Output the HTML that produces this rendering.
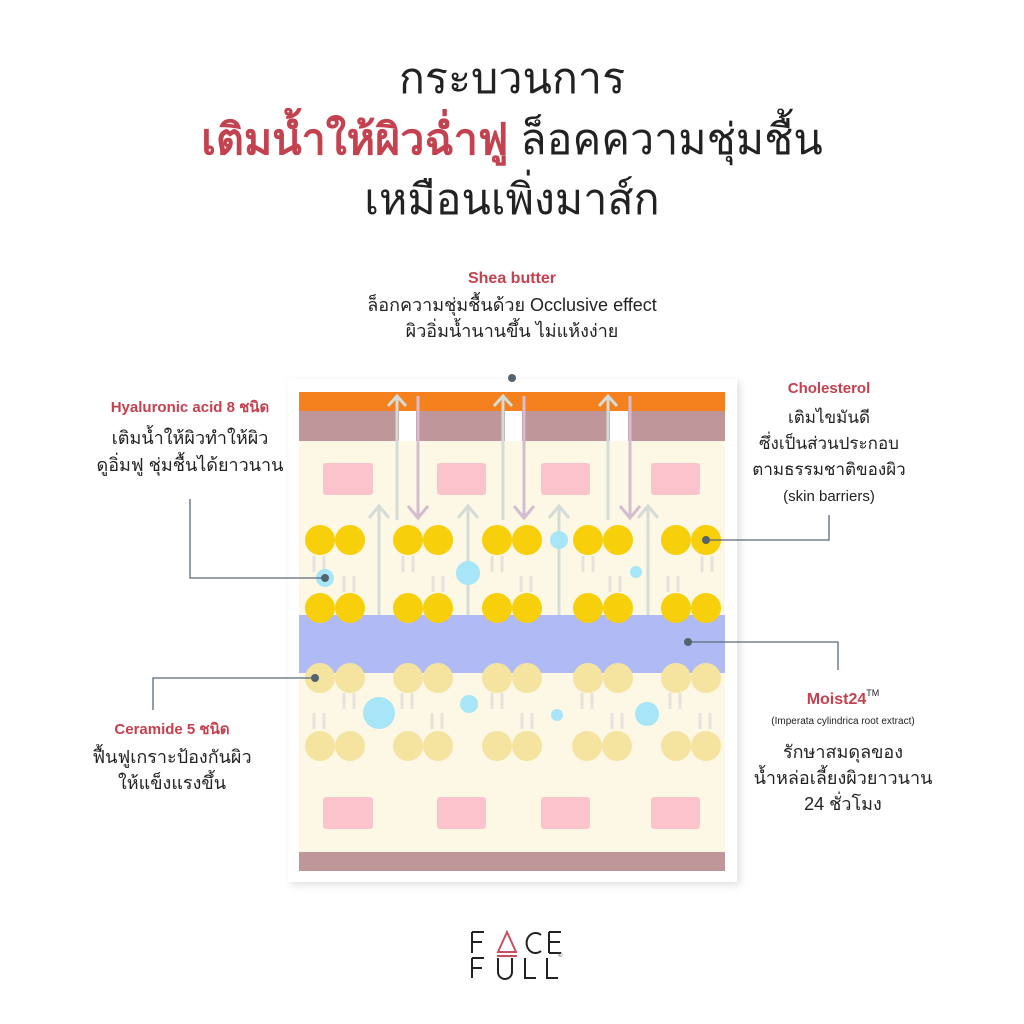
<!DOCTYPE html>
<html><head><meta charset="utf-8"><style>
html,body{margin:0;padding:0;background:#fff;}
svg{display:block}
text{font-family:"Liberation Sans","DejaVu Sans",sans-serif;}
</style></head><body>
<svg width="1024" height="1024" viewBox="0 0 1024 1024" xmlns="http://www.w3.org/2000/svg">
<defs>
<filter id="sh" x="-10%" y="-10%" width="120%" height="120%"><feDropShadow dx="3" dy="3" stdDeviation="4" flood-color="#000" flood-opacity="0.12"/></filter>
</defs>
<rect width="1024" height="1024" fill="#fff"/>
<!-- Title -->
<text x="512" y="93" text-anchor="middle" font-size="43" fill="#222">กระบวนการ</text>
<text x="512" y="154" text-anchor="middle" font-size="43"><tspan fill="#c4414f" font-weight="bold">เติมน้ำให้ผิวฉ่ำฟู</tspan><tspan fill="#222"> ล็อคความชุ่มชื้น</tspan></text>
<text x="512" y="214" text-anchor="middle" font-size="43" fill="#222">เหมือนเพิ่งมาส์ก</text>

<!-- card -->
<rect x="288" y="379" width="449" height="503" fill="#fff" filter="url(#sh)"/>
<rect x="299" y="392" width="426" height="19" fill="#f5801e"/>
<rect x="299" y="411" width="426" height="30" fill="#bf979a"/>
<rect x="299" y="441" width="426" height="411" fill="#fdf7e6"/>
<rect x="299" y="852" width="426" height="19" fill="#bf979a"/>
<rect x="299" y="615" width="426" height="58" fill="#b0bbf5"/>
<rect x="399" y="411" width="17" height="30" fill="#fff"/>
<rect x="505" y="411" width="17" height="30" fill="#fff"/>
<rect x="610" y="411" width="18" height="30" fill="#fff"/>
<g fill="#fbc3cb">
<rect x="323" y="463" width="50" height="32" rx="3"/><rect x="437" y="463" width="49" height="32" rx="3"/><rect x="541" y="463" width="49" height="32" rx="3"/><rect x="651" y="463" width="49" height="32" rx="3"/>
<rect x="323" y="797" width="50" height="32" rx="3"/><rect x="437" y="797" width="49" height="32" rx="3"/><rect x="541" y="797" width="49" height="32" rx="3"/><rect x="651" y="797" width="49" height="32" rx="3"/>
</g>
<g stroke="#e6e2dc" stroke-width="3">
<path d="M314 556v16M324 556v16M403 556v16M413 556v16M492 556v16M502 556v16M583 556v16M593 556v16M702 556v16M712 556v16"/>
<path d="M344 576v16M354 576v16M433 576v16M443 576v16M521 576v16M531 576v16M610 576v16M620 576v16M668 576v16M678 576v16"/>
<path d="M344 693v16M354 693v16M402 693v16M412 693v16M492 693v16M502 693v16M582 693v16M592 693v16M670 693v16M680 693v16"/>
<path d="M314 713v16M324 713v16M432 713v16M442 713v16M522 713v16M532 713v16M612 713v16M622 713v16M700 713v16M710 713v16"/>
</g>
<g stroke="#d3dcd6" stroke-width="3" fill="none">
<path d="M397 520V396M388 406l9-10 9 10"/><path d="M503 520V396M494 406l9-10 9 10"/><path d="M608 520V396M599 406l9-10 9 10"/>
<path d="M379 615V506M369 518l10-12 10 12"/><path d="M468 615V506M458 518l10-12 10 12"/><path d="M559 615V506M549 518l10-12 10 12"/><path d="M648 615V506M638 518l10-12 10 12"/>
</g>
<g stroke="#d6bcd0" stroke-width="3" fill="none">
<path d="M418 396V518M408 506l10 12 10-12"/><path d="M524 396V518M514 506l10 12 10-12"/><path d="M630 396V518M620 506l10 12 10-12"/>
</g>
<g fill="#f7cf0a">
<circle cx="320" cy="540" r="15"/><circle cx="350" cy="540" r="15"/><circle cx="408" cy="540" r="15"/><circle cx="438" cy="540" r="15"/><circle cx="497" cy="540" r="15"/><circle cx="527" cy="540" r="15"/><circle cx="588" cy="540" r="15"/><circle cx="618" cy="540" r="15"/><circle cx="676" cy="540" r="15"/><circle cx="706" cy="540" r="15"/>
<circle cx="320" cy="608" r="15"/><circle cx="350" cy="608" r="15"/><circle cx="408" cy="608" r="15"/><circle cx="438" cy="608" r="15"/><circle cx="497" cy="608" r="15"/><circle cx="527" cy="608" r="15"/><circle cx="588" cy="608" r="15"/><circle cx="618" cy="608" r="15"/><circle cx="676" cy="608" r="15"/><circle cx="706" cy="608" r="15"/>
</g>
<g fill="#f5e3a0">
<circle cx="320" cy="678" r="15"/><circle cx="350" cy="678" r="15"/><circle cx="408" cy="678" r="15"/><circle cx="438" cy="678" r="15"/><circle cx="497" cy="678" r="15"/><circle cx="527" cy="678" r="15"/><circle cx="588" cy="678" r="15"/><circle cx="618" cy="678" r="15"/><circle cx="676" cy="678" r="15"/><circle cx="706" cy="678" r="15"/>
<circle cx="320" cy="746" r="15"/><circle cx="350" cy="746" r="15"/><circle cx="408" cy="746" r="15"/><circle cx="438" cy="746" r="15"/><circle cx="497" cy="746" r="15"/><circle cx="527" cy="746" r="15"/><circle cx="587" cy="746" r="15"/><circle cx="617" cy="746" r="15"/><circle cx="676" cy="746" r="15"/><circle cx="706" cy="746" r="15"/>
</g>
<g fill="#a6e6f8">
<circle cx="325" cy="578" r="9"/><circle cx="468" cy="573" r="12"/><circle cx="559" cy="540" r="9"/><circle cx="636" cy="572" r="6"/>
<circle cx="379" cy="713" r="16"/><circle cx="469" cy="704" r="9"/><circle cx="557" cy="715" r="6"/><circle cx="647" cy="714" r="12"/>
</g>
<g stroke="#5a6878" stroke-width="1.3" fill="none">
<path d="M190 499V578H325"/>
<path d="M706 540H829V515"/>
<path d="M688 642H838V670"/>
<path d="M316 678H153V710"/>
</g>
<g fill="#55636f">
<circle cx="512" cy="378" r="4"/><circle cx="325" cy="578" r="4"/><circle cx="706" cy="540" r="4"/><circle cx="688" cy="642" r="4"/><circle cx="315" cy="678" r="4"/>
</g>

<text x="512" y="283" text-anchor="middle" font-size="16" font-weight="bold" fill="#c4414f">Shea butter</text>
<text x="512" y="311" text-anchor="middle" font-size="18" fill="#222">ล็อกความชุ่มชื้นด้วย Occlusive effect</text>
<text x="512" y="337" text-anchor="middle" font-size="18" fill="#222">ผิวอิ่มน้ำนานขึ้น ไม่แห้งง่าย</text>

<text x="190" y="412" text-anchor="middle" font-size="15" font-weight="bold" fill="#c4414f">Hyaluronic acid 8 ชนิด</text>
<text x="190" y="444" text-anchor="middle" font-size="18" fill="#222">เติมน้ำให้ผิวทำให้ผิว</text>
<text x="190" y="471" text-anchor="middle" font-size="18" fill="#222">ดูอิ่มฟู ชุ่มชื้นได้ยาวนาน</text>

<text x="829" y="393" text-anchor="middle" font-size="15" font-weight="bold" fill="#c4414f">Cholesterol</text>
<text x="829" y="423" text-anchor="middle" font-size="17" fill="#222">เติมไขมันดี</text>
<text x="829" y="449" text-anchor="middle" font-size="17" fill="#222">ซึ่งเป็นส่วนประกอบ</text>
<text x="829" y="475" text-anchor="middle" font-size="17" fill="#222">ตามธรรมชาติของผิว</text>
<text x="829" y="501" text-anchor="middle" font-size="15" fill="#222">(skin barriers)</text>

<text x="843" y="704" text-anchor="middle" font-size="16" font-weight="bold" fill="#c4414f">Moist24<tspan font-size="9" dy="-8" font-weight="normal" fill="#222">TM</tspan></text>
<text x="843" y="724" text-anchor="middle" font-size="10" fill="#222">(Imperata cylindrica root extract)</text>
<text x="843" y="758" text-anchor="middle" font-size="18" fill="#222">รักษาสมดุลของ</text>
<text x="843" y="784" text-anchor="middle" font-size="18" fill="#222">น้ำหล่อเลี้ยงผิวยาวนาน</text>
<text x="843" y="810" text-anchor="middle" font-size="18" fill="#222">24 ชั่วโมง</text>

<text x="172" y="734" text-anchor="middle" font-size="15" font-weight="bold" fill="#c4414f">Ceramide 5 ชนิด</text>
<text x="172" y="763" text-anchor="middle" font-size="18" fill="#222">ฟื้นฟูเกราะป้องกันผิว</text>
<text x="172" y="789" text-anchor="middle" font-size="18" fill="#222">ให้แข็งแรงขึ้น</text>

<!-- logo -->
<g stroke="#222" stroke-width="2" fill="none">
<path d="M472 932v21M472 932h12M472 942h10"/>
<path d="M498 952l9-20 9 20z" stroke="#c9505f"/><path d="M497 956h20" stroke="#c9505f"/>
<path d="M541 935a9 10 0 1 0 0 16"/>
<path d="M549 932v21M549 932h12M549 942h11M549 953h12"/>
<path d="M472 958v20M472 958h12M472 968h10"/>
<path d="M498 958v14a7 7 0 0 0 14 0v-14"/>
<path d="M525 958v20h11"/>
<path d="M547 958v20h11"/>
</g>
<text x="558" y="957" font-size="6" fill="#444">©</text>
</svg>
</body></html>
